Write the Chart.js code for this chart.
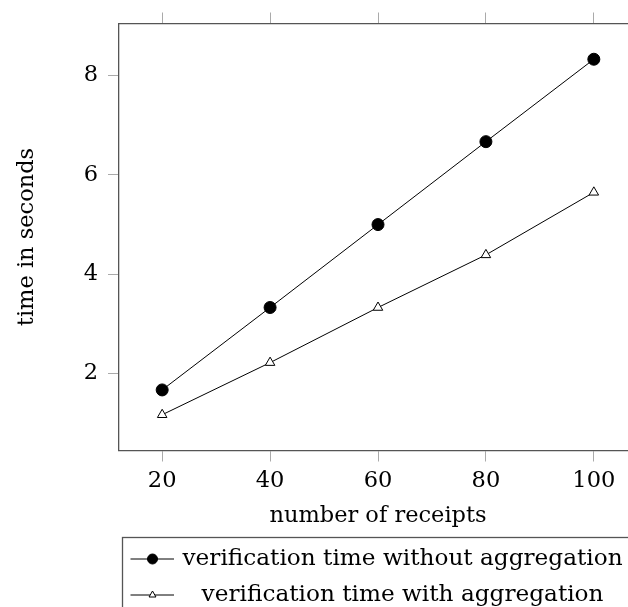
<!DOCTYPE html>
<html lang="en">
<head>
    <meta charset="UTF-8">
    <title>Verification time vs number of receipts</title>
    <script src="https://cdn.jsdelivr.net/npm/chart.js"></script>
    <style>
        html, body {
            margin: 0;
            padding: 0;
            background: #fff;
            overflow: hidden;
        }
        #wrap {
            width: 660px;
            height: 607px;
        }
    </style>
</head>
<body>
    <div id="wrap">
        <canvas id="chartCanvas" width="660" height="607"></canvas>
    </div>

    <script>
        // data
        const receipts = [20, 40, 60, 80, 100];
        const withoutAggregation = [1.67, 3.33, 5.00, 6.67, 8.33];
        const withAggregation = [1.17, 2.22, 3.33, 4.39, 5.65];
        const xTicks = [20, 40, 60, 80, 100];
        const yTicks = [2, 4, 6, 8];
        const seriesLabels = ['verification time without aggregation', 'verification time with aggregation'];
        const xTitle = 'number of receipts';
        const yTitle = 'time in seconds';

        const fontFamily = '"DejaVu Serif", "Liberation Serif", serif';
        const axisColor = '#555';
        const tickMarkColor = '#aaa';

        function toPoints(values) {
            return receipts.map((r, i) => ({ x: r, y: values[i] }));
        }

        // boxed legend under the plot, like the pgfplots one
        const boxLegend = {
            id: 'boxLegend',
            afterDraw(chart) {
                const ctx = chart.ctx;
                const left = 122.5, top = 537.5, rowH = 36;
                ctx.save();
                ctx.strokeStyle = axisColor;
                ctx.lineWidth = 1.3;
                ctx.strokeRect(left, top, chart.width, chart.height);

                ctx.font = '23.2px ' + fontFamily;
                const widths = chart.data.datasets.map(d => ctx.measureText(d.label).width);
                const textCenter = 182.5 + Math.max(...widths) / 2;

                chart.data.datasets.forEach((ds, i) => {
                    const y = top + 21.5 + i * rowH;
                    ctx.beginPath();
                    ctx.moveTo(130.5, y);
                    ctx.lineTo(174, y);
                    ctx.strokeStyle = ds.borderColor;
                    ctx.lineWidth = 1;
                    ctx.stroke();

                    ctx.fillStyle = ds.pointBackgroundColor;
                    ctx.strokeStyle = ds.pointBorderColor;
                    Chart.helpers.drawPoint(ctx, {
                        pointStyle: ds.pointStyle,
                        radius: ds.pointStyle === 'circle' ? 5 : 4,
                        rotation: 0,
                        borderWidth: 1
                    }, 152.5, y);

                    ctx.fillStyle = '#000';
                    ctx.textAlign = 'center';
                    ctx.textBaseline = 'alphabetic';
                    ctx.fillText(ds.label, textCenter, y + 6);
                });
                ctx.restore();
            }
        };

        const tickFont = { family: fontFamily, size: 22.5 };

        new Chart(document.getElementById('chartCanvas'), {
            type: 'line',
            data: {
                datasets: [{
                    label: seriesLabels[0],
                    data: toPoints(withoutAggregation),
                    borderColor: '#000',
                    borderWidth: 1,
                    pointStyle: 'circle',
                    pointRadius: 6,
                    pointBackgroundColor: '#000',
                    pointBorderColor: '#000',
                    pointBorderWidth: 1,
                    tension: 0,
                    fill: false
                }, {
                    label: seriesLabels[1],
                    data: toPoints(withAggregation),
                    borderColor: '#000',
                    borderWidth: 1,
                    pointStyle: 'triangle',
                    pointRadius: 5.5,
                    pointBackgroundColor: '#fff',
                    pointBorderColor: '#000',
                    pointBorderWidth: 1,
                    tension: 0,
                    fill: false
                }]
            },
            options: {
                responsive: false,
                animation: false,
                layout: { padding: { left: 0, right: 23, top: 0, bottom: 77.5 } },
                plugins: {
                    legend: { display: false },
                    tooltip: { enabled: false }
                },
                scales: {
                    x: {
                        type: 'linear',
                        position: 'bottom',
                        min: 12,
                        max: 108,
                        afterBuildTicks: s => { s.ticks = xTicks.map(v => ({ value: v })); },
                        afterFit: s => { s.height = 79; },
                        grid: { drawOnChartArea: false, tickLength: 11, color: tickMarkColor },
                        border: { color: axisColor, width: 1.3 },
                        ticks: { font: tickFont, color: '#000', padding: 6, maxRotation: 0 },
                        title: { display: true, text: xTitle, font: tickFont, color: '#000', padding: 0 }
                    },
                    xTop: {
                        type: 'linear',
                        position: 'top',
                        min: 12,
                        max: 108,
                        afterBuildTicks: s => { s.ticks = xTicks.map(v => ({ value: v })); },
                        afterFit: s => { s.height = 20; },
                        grid: { drawOnChartArea: false, tickLength: 11, color: tickMarkColor },
                        border: { color: axisColor, width: 1.3 },
                        ticks: { display: false }
                    },
                    y: {
                        type: 'linear',
                        position: 'left',
                        min: 0.45,
                        max: 9.05,
                        afterBuildTicks: s => { s.ticks = yTicks.map(v => ({ value: v })); },
                        afterFit: s => { s.width = 119; },
                        grid: { drawOnChartArea: false, tickLength: 11, color: tickMarkColor },
                        border: { color: axisColor, width: 1.3 },
                        ticks: { font: tickFont, color: '#000', padding: 10 },
                        title: { display: true, text: yTitle, font: tickFont, color: '#000', padding: { top: 14 } }
                    }
                }
            },
            plugins: [boxLegend]
        });
    </script>
</body>
</html>
